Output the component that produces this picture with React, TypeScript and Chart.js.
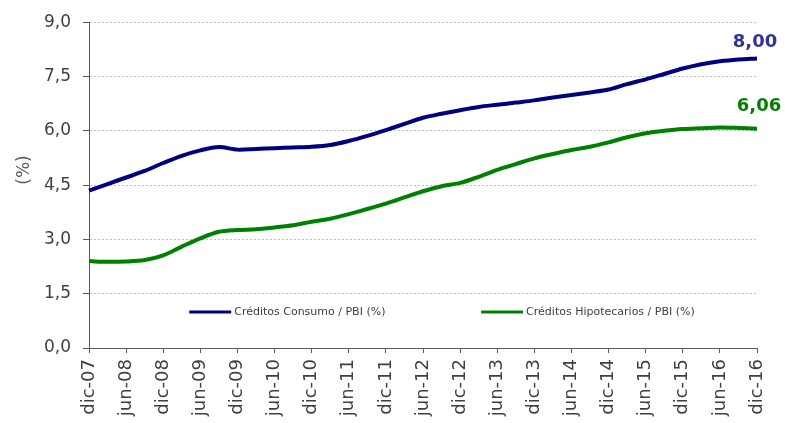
import React, { useEffect, useRef } from "react";
import { Chart, registerables } from "chart.js";

Chart.register(...registerables);

const quarterLabels: string[] = [
  "dic-07", "mar-08", "jun-08", "sep-08", "dic-08", "mar-09", "jun-09", "sep-09",
  "dic-09", "mar-10", "jun-10", "sep-10", "dic-10", "mar-11", "jun-11", "sep-11",
  "dic-11", "mar-12", "jun-12", "sep-12", "dic-12", "mar-13", "jun-13", "sep-13",
  "dic-13", "mar-14", "jun-14", "sep-14", "dic-14", "mar-15", "jun-15", "sep-15",
  "dic-15", "mar-16", "jun-16", "sep-16", "dic-16",
];

const consumoValues: number[] = [
  4.35, 4.53, 4.71, 4.89, 5.11, 5.31, 5.46, 5.55,
  5.48, 5.50, 5.52, 5.54, 5.56, 5.61, 5.72, 5.86,
  6.02, 6.19, 6.36, 6.47, 6.57, 6.66, 6.72, 6.78,
  6.84, 6.92, 6.99, 7.06, 7.14, 7.29, 7.42, 7.57,
  7.72, 7.84, 7.92, 7.97, 8.00,
];

const hipotecariosValues: number[] = [
  2.40, 2.38, 2.39, 2.43, 2.56, 2.80, 3.03, 3.21,
  3.26, 3.28, 3.33, 3.39, 3.49, 3.57, 3.70, 3.84,
  3.99, 4.16, 4.33, 4.47, 4.56, 4.73, 4.92, 5.08,
  5.24, 5.36, 5.47, 5.56, 5.68, 5.82, 5.93, 6.00,
  6.05, 6.07, 6.09, 6.08, 6.06,
];

const seriesNames: string[] = ["Créditos Consumo / PBI (%)", "Créditos Hipotecarios / PBI (%)"];
const seriesColors: string[] = ["#000080", "#008000"];
const endLabelColors: string[] = ["#333399", "#008000"];
const yAxisTitle = "(%)";

const FONT = "'DejaVu Sans', Verdana, sans-serif";

const overlayPlugin = {
  id: "overlay",
  afterDatasetsDraw(chart: any) {
    const { ctx, chartArea } = chart;
    ctx.save();
    // end-of-series value labels
    const offsets = [[-2, -11], [2, -18]];
    chart.data.datasets.forEach((ds: any, i: number) => {
      const meta = chart.getDatasetMeta(i);
      const last = meta.data[meta.data.length - 1];
      if (!last) return;
      const v = ds.data[ds.data.length - 1] as number;
      ctx.font = `bold 18px ${FONT}`;
      ctx.fillStyle = endLabelColors[i];
      ctx.textAlign = "center";
      ctx.textBaseline = "alphabetic";
      ctx.fillText(v.toFixed(2).replace(".", ","), last.x + offsets[i][0], last.y + offsets[i][1]);
    });
    // legend inside plot area
    const ly = chartArea.bottom - 36;
    const starts = [0.15, 0.587];
    chart.data.datasets.forEach((ds: any, i: number) => {
      const x0 = chartArea.left + starts[i] * (chartArea.right - chartArea.left);
      ctx.strokeStyle = seriesColors[i];
      ctx.lineWidth = 3;
      ctx.beginPath();
      ctx.moveTo(x0, ly);
      ctx.lineTo(x0 + 42, ly);
      ctx.stroke();
      ctx.font = `11px ${FONT}`;
      ctx.fillStyle = "#404040";
      ctx.textAlign = "left";
      ctx.textBaseline = "middle";
      ctx.fillText(ds.label, x0 + 45, ly);
    });
    // y axis title
    ctx.translate(25, 170);
    ctx.rotate(-Math.PI / 2);
    ctx.font = `17px ${FONT}`;
    ctx.fillStyle = "#595959";
    ctx.textAlign = "center";
    ctx.textBaseline = "middle";
    ctx.fillText(yAxisTitle, 0, 0);
    ctx.restore();
  },
};

export default function App() {
  const canvasRef = useRef<HTMLCanvasElement | null>(null);

  useEffect(() => {
    document.body.style.margin = "0";
    const canvas = canvasRef.current;
    if (!canvas) return;
    const chart = new Chart(canvas, {
      type: "line",
      data: {
        labels: quarterLabels,
        datasets: [
          {
            label: seriesNames[0],
            data: consumoValues,
            borderColor: seriesColors[0],
            backgroundColor: seriesColors[0],
            borderWidth: 4,
            pointRadius: 0,
            tension: 0.3,
            fill: false,
          },
          {
            label: seriesNames[1],
            data: hipotecariosValues,
            borderColor: seriesColors[1],
            backgroundColor: seriesColors[1],
            borderWidth: 4,
            pointRadius: 0,
            tension: 0.3,
            fill: false,
          },
        ],
      },
      options: {
        responsive: false,
        animation: false,
        layout: { padding: { top: 20, right: 28, left: 0, bottom: 0 } },
        plugins: {
          legend: { display: false },
          tooltip: { enabled: false },
        },
        scales: {
          x: {
            type: "category",
            offset: false,
            grid: {
              drawOnChartArea: false,
              drawTicks: true,
              tickLength: 5,
              tickColor: "#595959",
            },
            border: { display: true, color: "#595959", width: 1 },
            ticks: {
              autoSkip: false,
              maxRotation: 90,
              minRotation: 90,
              padding: 6,
              color: "#404040",
              font: { family: FONT, size: 18 },
              callback: function (this: any, _v: any, i: number) {
                return i % 2 === 0 ? quarterLabels[i] : null;
              },
            },
            afterFit: (scale: any) => {
              scale.height = 75;
            },
          },
          y: {
            min: 0,
            max: 9,
            grid: {
              color: "#c0c0c0",
              lineWidth: 1,
              drawTicks: true,
              tickLength: 6,
              tickColor: "#595959",
            },
            border: { display: true, color: "#595959", width: 1, dash: [2, 2] },
            ticks: {
              stepSize: 1.5,
              padding: 12,
              color: "#404040",
              font: { family: FONT, size: 17 },
              callback: (v: any) => Number(v).toFixed(1).replace(".", ","),
            },
            afterFit: (scale: any) => {
              scale.width = 89;
            },
          },
        },
      },
      plugins: [overlayPlugin],
    });
    return () => chart.destroy();
  }, []);

  return (
    <div style={{ width: 785, height: 423 }}>
      <canvas ref={canvasRef} width={785} height={423} />
    </div>
  );
}
